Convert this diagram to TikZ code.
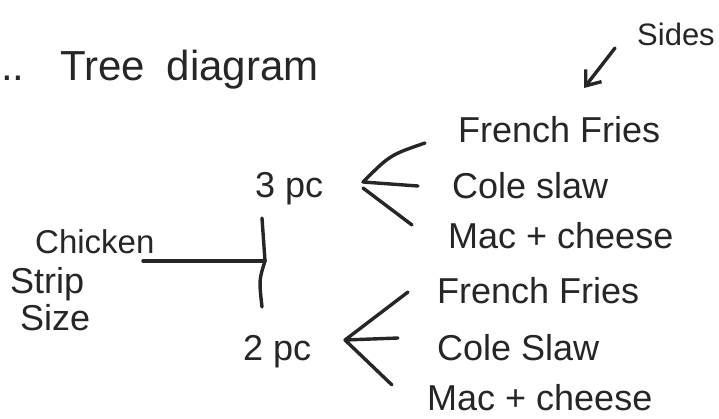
\documentclass[tikz,border=0pt]{standalone}
\usepackage{fontspec}
\setmainfont{Liberation Sans}
\usetikzlibrary{arrows.meta}
\definecolor{ink}{HTML}{262626}
\tikzset{
  lbl/.style={anchor=base west, inner sep=0pt, text=ink, font=\fontsize{36}{40}\selectfont},
  ttl/.style={anchor=base west, inner sep=0pt, text=ink, font=\fontsize{42}{46}\selectfont},
  stroke/.style={draw=ink, line width=3.4pt, line cap=round, line join=round},
}
\begin{document}
\begin{tikzpicture}[x=1pt, y=-1pt]
  \useasboundingbox (0,0) rectangle (719,418);

  % heading
  \node[ttl] (dots) at (1,80) {..};
  \node[ttl] (title) at (60,80) {Tree\hspace{22pt}diagram};
  \node[lbl, font=\fontsize{31}{35}\selectfont] (sides) at (637,45) {Sides};
  \coordinate (sidesTail) at (615,48);
  \coordinate (sidesHead) at (584,88);
  \draw[stroke, -{Straight Barb[length=13pt, width=20pt]}] (sidesTail) -- (sidesHead);

  % root
  \node[lbl, font=\fontsize{33}{37}\selectfont] (chicken) at (35,253) {Chicken};
  \node[lbl] (strip) at (10,293) {Strip};
  \node[lbl] (size) at (20,330) {Size};

  % first level
  \node[lbl] (p3) at (255,197) {3 pc};
  \node[lbl] (p2) at (243,360) {2 pc};

  % sides after 3 pc
  \node[lbl] (ffA) at (458,142) {French Fries};
  \node[lbl] (csA) at (452,198) {Cole slaw};
  \node[lbl] (mcA) at (448,248) {Mac + cheese};

  % sides after 2 pc
  \node[lbl] (ffB) at (437,303) {French Fries};
  \node[lbl] (csB) at (437,360) {Cole Slaw};
  \node[lbl] (mcB) at (427,410) {Mac + cheese};

  % root to the size bar
  \coordinate (barTop) at (262,218);
  \coordinate (barMid) at (265,261);
  \coordinate (barBot) at (262,307);
  \coordinate (rootEnd) at (143,261);
  \draw[stroke] (rootEnd) -- (barMid);
  \draw[stroke] (barTop) .. controls (264,240) .. (barMid) .. controls (259,280) .. (barBot);

  % fork from 3 pc
  \coordinate (forkA) at (363,182);
  \coordinate (endFfA) at (425,143);
  \coordinate (endCsA) at (418,186);
  \coordinate (endMcA) at (412,225);
  \draw[stroke] (endFfA) .. controls (390,155) .. (forkA) -- (endCsA);
  \draw[stroke] (363,188) -- (endMcA);

  % fork from 2 pc
  \coordinate (forkB) at (345,340);
  \coordinate (endFfB) at (408,292);
  \coordinate (endCsB) at (398,338);
  \coordinate (endMcB) at (392,385);
  \draw[stroke] (endFfB) -- (forkB) -- (endCsB);
  \draw[stroke] (forkB) -- (endMcB);
\end{tikzpicture}
\end{document}
